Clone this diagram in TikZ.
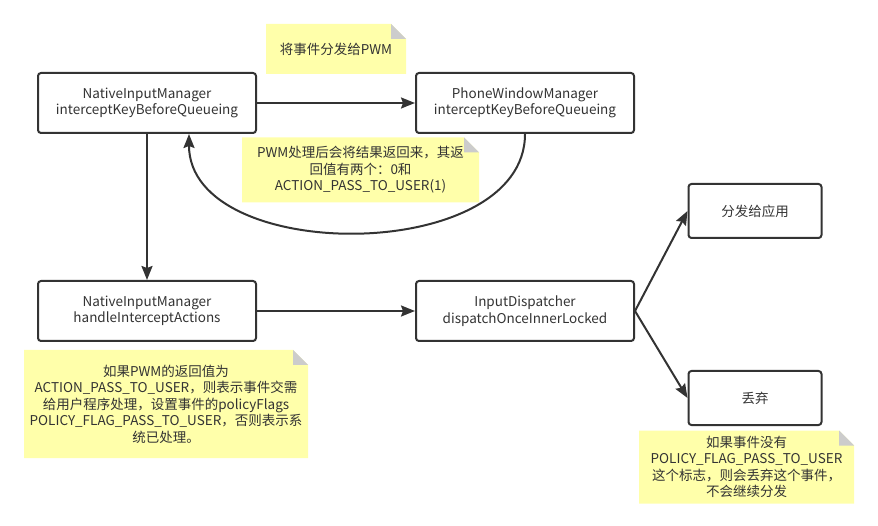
\documentclass[tikz,border=0pt]{standalone}
\usepackage{fontspec}
\setmainfont{Noto Sans CJK SC}
\usetikzlibrary{arrows.meta,backgrounds}
\definecolor{linegray}{HTML}{333333}
\definecolor{noteyellow}{HTML}{FFFFAA}
\definecolor{foldgray}{HTML}{CCCCCC}

\begin{document}
\begin{tikzpicture}[->,>={Stealth[length=14pt,width=11pt,inset=2pt]},x=1pt,y=-1pt,
  line width=2pt,color=linegray,font=\fontsize{13.5}{16.5}\selectfont,
  main node/.style={rectangle,rounded corners=3pt,draw,line width=2pt,minimum width=218pt,minimum height=60pt,align=center},
  small node/.style={main node,minimum width=133pt,minimum height=54pt},
  note/.style={rectangle,align=center,inner sep=0pt}]
  \useasboundingbox (0,0) rectangle (878,526);

  \node[main node] (keyqueue) at (147,103) {NativeInputManager\\interceptKeyBeforeQueueing};
  \node[main node] (pwm) [right of=keyqueue, node distance=378pt] {PhoneWindowManager\\interceptKeyBeforeQueueing};

  \node[main node] (actions) [below of=keyqueue, node distance=208pt] {NativeInputManager\\handleInterceptActions};
  \node[main node] (dispatch) [right of=actions, node distance=378pt] {InputDispatcher\\dispatchOnceInnerLocked};

  \node[small node] (toapp) [right of=dispatch, node distance=230pt, yshift=100pt] {分发给应用};
\node[small node] (drop) [right of=dispatch, node distance=230pt, yshift=-87pt] {丢弃};

  \node[note, minimum width=138pt, minimum height=48pt] (pwmnote) at (336,49) {将事件分发给PWM};
  \node[note, minimum width=235pt, minimum height=63pt] (retnote) at (360.5,170) {PWM处理后会将结果返回来，其返\\回值有两个：0和\\ACTION\_PASS\_TO\_USER(1)};
  \node[note, minimum width=282pt, minimum height=106pt] (flagnote) at (166,404) {如果PWM的返回值为\\ACTION\_PASS\_TO\_USER，则表示事件交需\\给用户程序处理，设置事件的policyFlags\\POLICY\_FLAG\_PASS\_TO\_USER，否则表示系\\统已处理。};
  \node[note, minimum width=213pt, minimum height=71pt] (dropnote) at (746.5,467) {如果事件没有\\POLICY\_FLAG\_PASS\_TO\_USER\\这个标志，则会丢弃这个事件，\\不会继续分发};

  \begin{pgfonlayer}{background}
  \foreach \n in {pwmnote,retnote,flagnote,dropnote} {
    \fill[noteyellow,-] (\n.south west) -- (\n.north west) -- ([xshift=-15pt]\n.north east) -- ([yshift=-15pt]\n.north east) -- (\n.south east) -- cycle;
    \fill[foldgray,-] ([xshift=-15pt]\n.north east) -- ([yshift=-15pt]\n.north east) -- ([xshift=-15pt,yshift=-15pt]\n.north east) -- cycle;
  }
  \end{pgfonlayer}

  \path[every edge/.append style={line width=2pt}]
    (keyqueue) edge (pwm)
    (pwm.south) edge[out=270,in=270,looseness=1] ([xshift=42pt]keyqueue.south)
    (keyqueue) edge (actions)
    (actions) edge (dispatch)
   (dispatch.east) edge (toapp.west)
   (dispatch.east) edge (drop.west);
\end{tikzpicture}
\end{document}
